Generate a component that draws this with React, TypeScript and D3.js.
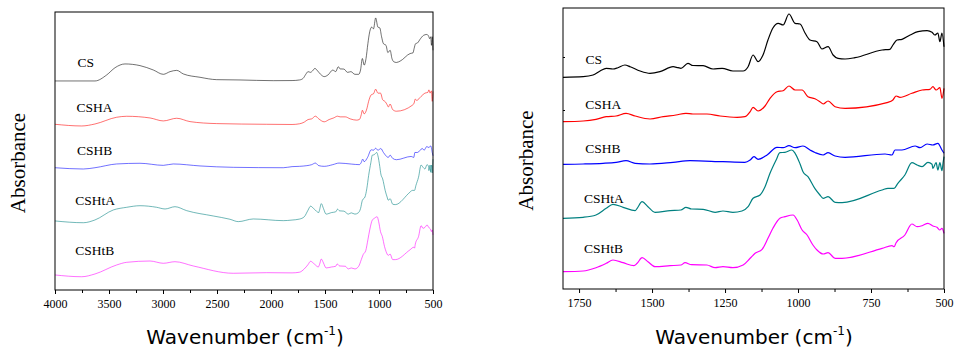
import React, { useEffect, useRef } from "react";
import * as d3 from "d3";

// FTIR spectra, [wavenumber (cm-1), absorbance (a.u., stacked offsets)]
const csData: [number, number][] = [
  [4000, 211.3], [3630, 211.3], [3521, 217.4], [3444, 224.7], [3352, 228.5], [3213, 226.8],
  [3090, 222.4], [2997, 218], [2935, 220.7], [2873, 222], [2812, 218.4], [2657, 215],
  [2503, 212.6], [2287, 212.3], [1979, 211.6], [1805, 211.7], [1736, 212.3], [1702, 214],
  [1678, 218], [1657, 220.7], [1634, 220], [1617, 221.3], [1593, 224], [1575, 222.3],
  [1541, 218], [1507, 215.7], [1473, 217.3], [1428, 222.3], [1411, 221.3], [1401, 220.7],
  [1377, 225.7], [1360, 223.5], [1325, 223.3], [1291, 220], [1260, 220.7], [1223, 218],
  [1188, 218], [1171, 222.3], [1154, 234], [1137, 227.3], [1120, 234], [1103, 249],
  [1086, 261], [1068, 265.7], [1051, 264], [1031, 275], [1010, 265.7], [993, 265],
  [976, 256], [959, 249], [935, 247.3], [918, 240], [897, 242.3], [880, 234], [863, 230.7],
  [839, 230], [805, 231.3], [712, 239], [685, 239.7], [675, 244], [661, 249], [644, 249.7],
  [616, 254], [589, 257.3], [558, 258.3], [541, 256.7], [531, 254], [521, 256], [514, 247.3],
  [507, 256], [500, 242.3],
];

const cshaData: [number, number][] = [
  [4000, 167.5], [3753, 165.8], [3630, 167.8], [3429, 174.6], [3336, 175.6], [3120, 173.9],
  [2997, 170.9], [2873, 173.6], [2750, 170.2], [2503, 168.2], [2040, 167.5], [1805, 167.3],
  [1736, 168], [1692, 169.7], [1657, 172.3], [1623, 173], [1589, 175.7], [1558, 173],
  [1507, 170], [1462, 172.3], [1418, 174], [1384, 175.7], [1360, 175], [1312, 175],
  [1267, 173], [1209, 171.7], [1182, 172.3], [1164, 177.3], [1154, 181.7], [1137, 178],
  [1113, 183], [1096, 190.7], [1072, 197.3], [1051, 198.3], [1031, 203], [1010, 199],
  [986, 199], [966, 192.3], [942, 190.3], [925, 187.3], [914, 185], [897, 188], [873, 182.3],
  [839, 180.7], [692, 186.7], [675, 189], [664, 193], [651, 191.7], [610, 195.7], [575, 199],
  [548, 199.7], [538, 202.3], [527, 199], [514, 201.3], [507, 190.7], [500, 200.7],
];

const cshbData: [number, number][] = [
  [4000, 123.6], [3738, 122.3], [3630, 123.6], [3429, 127.4], [3213, 128.1], [2997, 126],
  [2905, 127.4], [2657, 125.4], [2349, 124], [1886, 123.6], [1805, 124.7], [1736, 125],
  [1668, 125.7], [1623, 126.7], [1589, 128.3], [1558, 125.7], [1507, 125], [1428, 126.7],
  [1370, 128.3], [1257, 127.3], [1182, 126.7], [1164, 129], [1151, 132.3], [1137, 129.7],
  [1106, 134], [1072, 141.7], [1051, 141.3], [1031, 143.3], [1010, 141.3], [983, 143],
  [959, 139], [942, 136.5], [914, 134], [897, 136.3], [873, 133], [839, 131.7], [702, 135],
  [678, 134], [668, 139], [644, 139], [599, 143], [582, 141.3], [558, 145], [538, 144],
  [521, 145.7], [507, 139], [500, 135.7],
];

const cshtaData: [number, number][] = [
  [4000, 69.8], [3738, 68], [3630, 70.8], [3460, 80.9], [3336, 83.6], [3213, 85.2],
  [3059, 83.6], [2981, 81.9], [2889, 84.2], [2781, 80.2], [2534, 74.8], [2380, 71.5],
  [2303, 69.1], [2164, 71.8], [1886, 70.1], [1805, 70.7], [1736, 71.7], [1692, 74],
  [1657, 80.7], [1634, 84.7], [1599, 81.7], [1558, 78.3], [1551, 80.7], [1534, 87.3],
  [1514, 82.3], [1490, 76.7], [1438, 78.3], [1401, 79], [1384, 81.7], [1365, 80],
  [1325, 79.7], [1284, 76.7], [1257, 78], [1223, 76.7], [1192, 78], [1171, 82.3],
  [1154, 90.7], [1130, 94], [1113, 102.3], [1096, 115.7], [1075, 129], [1062, 136.3],
  [1045, 136.7], [1021, 139], [1010, 135.7], [993, 125], [983, 117.3], [966, 112.3],
  [942, 100.3], [925, 94], [914, 90.7], [897, 92.3], [873, 86.7], [849, 86.3], [712, 99],
  [692, 100.7], [671, 100.7], [658, 105.7], [634, 114], [610, 126.3], [592, 124], [575, 122.3],
  [555, 126.7], [541, 124.7], [538, 120.7], [527, 126.3], [521, 119], [514, 126.3],
  [507, 118.3], [503, 126.7], [500, 132.3],
];

const cshtbData: [number, number][] = [
  [4000, 15.2], [3753, 13.4], [3630, 16.2], [3429, 25.3], [3336, 28], [3120, 29.3],
  [2997, 27], [2889, 28.6], [2720, 24.3], [2349, 16.9], [2040, 17.5], [1805, 17.3],
  [1736, 18], [1692, 21.3], [1657, 25.7], [1634, 29], [1599, 26.3], [1562, 23.3],
  [1551, 25.7], [1534, 31.3], [1514, 27.3], [1490, 22.3], [1438, 23.3], [1401, 24],
  [1387, 26.3], [1365, 24.3], [1312, 24], [1284, 21.3], [1257, 22.3], [1223, 21.3],
  [1188, 24], [1164, 30.7], [1147, 35.7], [1123, 39.7], [1103, 50.7], [1086, 60.7],
  [1062, 70.7], [1045, 72.3], [1017, 74], [1003, 69], [986, 59], [969, 54], [949, 44],
  [935, 39], [914, 35], [897, 36.3], [873, 30.7], [849, 30.7], [712, 40.7], [678, 43.3],
  [671, 42.3], [664, 46.3], [634, 54], [610, 65], [592, 62.3], [575, 63.3], [555, 65.7],
  [538, 63], [524, 61.7], [514, 59], [507, 60.7], [500, 55.7],
];

const seriesNames = ["CS", "CSHA", "CSHB", "CSHtA", "CSHtB"];
const seriesData = [csData, cshaData, cshbData, cshtaData, cshtbData];
const seriesColors = ["#000000", "#ff0000", "#0000ff", "#008080", "#ff00ff"];

const leftMajorTicks = [4000, 3500, 3000, 2500, 2000, 1500, 1000, 500];
const leftMinorTicks = [3750, 3250, 2750, 2250, 1750, 1250, 750];
const rightMajorTicks = [1750, 1500, 1250, 1000, 750, 500];
const rightMinorTicks = [1625, 1375, 1125, 875, 625];
const rightYTicks = [232, 179];

const serif = "'Liberation Serif', 'Times New Roman', serif";
const sans = "'DejaVu Sans', Verdana, sans-serif";

const App = () => {
  const svgRef = useRef<SVGSVGElement>(null);

  useEffect(() => {
    const svg = d3.select(svgRef.current);
    svg.selectAll("*").remove();

    const panels = [
      {
        x0: 55, x1: 433, yTop: 12, yBot: 290, domain: [4000, 500],
        major: leftMajorTicks, minor: leftMinorTicks, lineWidth: 0.7, opacity: 0.8,
        labelX: [77.5, 76.5, 77, 75.3, 75.3], labelY: [66.5, 112, 155, 205, 255],
        titleX: 245, yTitleX: 25, yTicks: [] as number[],
      },
      {
        x0: 563, x1: 944, yTop: 8, yBot: 289, domain: [1805, 500],
        major: rightMajorTicks, minor: rightMinorTicks, lineWidth: 1.2, opacity: 1,
        labelX: [585.5, 585.3, 585.3, 584, 584], labelY: [64.3, 109.3, 153.3, 203.3, 253.3],
        titleX: 754, yTitleX: 533, yTicks: rightYTicks,
      },
    ];

    panels.forEach(p => {
      const x = d3.scaleLinear().domain(p.domain).range([p.x0, p.x1]);
      const y = d3.scaleLinear().domain([0, 281]).range([p.yBot, p.yTop]);
      const g = svg.append("g");

      const line = d3.line<[number, number]>()
        .x(d => x(d[0]))
        .y(d => y(d[1]))
        .curve(d3.curveMonotoneX);

      seriesData.forEach((data, i) => {
        const pts = data.filter(d => d[0] <= p.domain[0]);
        g.append("path")
          .attr("d", line(pts))
          .attr("fill", "none")
          .attr("stroke", seriesColors[i])
          .attr("stroke-width", p.lineWidth)
          .attr("stroke-opacity", p.opacity)
          .attr("stroke-linejoin", "round");

        g.append("text")
          .attr("x", p.labelX[i])
          .attr("y", p.labelY[i])
          .attr("font-family", serif)
          .attr("font-size", 13.5)
          .attr("fill", "#000")
          .text(seriesNames[i]);
      });

      // frame
      g.append("rect")
        .attr("x", p.x0).attr("y", p.yTop)
        .attr("width", p.x1 - p.x0).attr("height", p.yBot - p.yTop)
        .attr("fill", "none").attr("stroke", "#000").attr("stroke-width", 1);

      const axis = g.append("g").attr("transform", `translate(0, ${p.yBot})`);
      axis.call(d3.axisBottom(x).tickValues(p.major).tickSize(4).tickPadding(5.5).tickFormat(d3.format("d")));
      axis.select(".domain").remove();
      axis.selectAll("text").attr("font-family", serif).attr("font-size", 12).attr("fill", "#000");

      const minor = g.append("g").attr("transform", `translate(0, ${p.yBot})`);
      minor.call(d3.axisBottom(x).tickValues(p.minor).tickSize(3).tickFormat(() => ""));
      minor.select(".domain").remove();

      if (p.yTicks.length) {
        const ya = g.append("g").attr("transform", `translate(${p.x0}, 0)`);
        ya.call(d3.axisRight(y).tickValues(p.yTicks).tickSize(2).tickFormat(() => ""));
        ya.select(".domain").remove();
      }

      const title = g.append("text")
        .attr("x", p.titleX).attr("y", 344)
        .attr("text-anchor", "middle")
        .attr("font-family", sans)
        .attr("font-size", 20)
        .attr("fill", "#000");
      title.append("tspan").text("Wavenumber (cm");
      title.append("tspan").attr("dy", -9).attr("font-size", 12).text("-1");
      title.append("tspan").attr("dy", 9).text(")");

      g.append("text")
        .attr("transform", `translate(${p.yTitleX}, ${(p.yTop + p.yBot) / 2 + 12}) rotate(-90)`)
        .attr("text-anchor", "middle")
        .attr("font-family", serif)
        .attr("font-size", 21)
        .attr("fill", "#000")
        .text("Absorbance");
    });
  }, []);

  return (
    <div style={{ position: "absolute", left: 0, top: 0 }}>
      <style>{"body{margin:0;background:#fff}"}</style>
      <svg ref={svgRef} width={956} height={349} style={{ display: "block" }}></svg>
    </div>
  );
};

export default App;
